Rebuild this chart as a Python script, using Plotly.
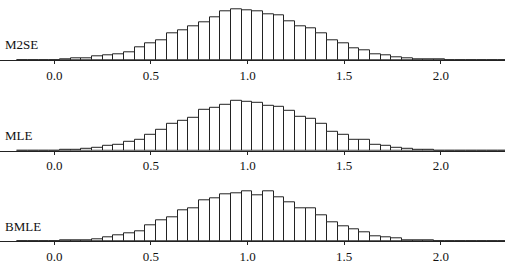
import plotly.graph_objects as go

# Histogram bins (left edge of first full bin and common bin width)
BIN_START = 0.0293
BIN_WIDTH = 0.0553
N_LEFT_TAIL = 4

panel_names = ["M2SE", "MLE", "BMLE"]
tick_vals = [0.0, 0.5, 1.0, 1.5, 2.0]
tick_text = ["0.0", "0.5", "1.0", "1.5", "2.0"]

# heights (relative frequency, arbitrary units)
m2se = [0.2, 0.2, 0.3, 0.4,
        1, 1.7, 2.3, 3.7, 5, 6, 8, 12.7, 16.7, 20.3,
        26.7, 29.7, 34.3, 37.7, 42.7, 49.3, 50.7, 50, 49.3,
        46, 44.7, 39, 33.7, 31.7, 27, 20.3, 16.7, 12, 10.3,
        5.7, 4.7, 3, 2, 1.3, 1, 0.7,
        0.4, 0.3, 0.2, 0.2, 0.1, 0.1]
mle = [0.2, 0.2, 0.3, 0.5,
       0.7, 1.3, 1.7, 3.3, 5.3, 5.7, 8.7, 11, 16, 21.3,
       26.7, 30, 33.3, 41.3, 43.3, 46, 50.3, 49.3, 48.3,
       45, 44.3, 39.7, 34.3, 32.3, 27.3, 19, 16.3, 11.3, 11,
       5.7, 4.7, 2.7, 2.3, 1.3, 0.7, 0.5,
       0.4, 0.3, 0.2, 0.2, 0.1, 0.1]
bmle = [0.2, 0.2, 0.3, 0.4,
        0.7, 1, 1.3, 2.3, 3.7, 6, 7.7, 10, 16, 20.7,
        24.3, 31, 32.7, 40.7, 42.7, 46.7, 48.3, 50, 46.3,
        49.7, 43.7, 39, 32.7, 32.7, 26.3, 18.7, 14.7, 12.3, 9.3,
        5, 3.7, 2.7, 1.3, 0.7, 0.7, 0.5,
        0.4, 0.3, 0.2, 0.2, 0.1, 0.1]

series = [m2se, mle, bmle]

W, H = 505, 270
baselines_px = [60.3, 150.8, 241.3]   # pixel row of each panel's baseline
panel_h_px = 55
YMAX = 55
label_px = [45, 135.7, 226.7]

FONT = "Liberation Serif, Times New Roman, serif"

fig = go.Figure()
layout = dict(
    width=W, height=H,
    margin=dict(l=0, r=0, t=0, b=0),
    paper_bgcolor="white", plot_bgcolor="white",
    showlegend=False,
    bargap=0,
    annotations=[],
)

for i, (name, vals) in enumerate(zip(panel_names, series)):
    n = len(vals)
    centers = [BIN_START + (k - N_LEFT_TAIL + 0.5) * BIN_WIDTH for k in range(n)]
    xa = "x" if i == 0 else f"x{i+1}"
    ya = "y" if i == 0 else f"y{i+1}"
    fig.add_trace(go.Bar(
        x=centers, y=vals, width=[BIN_WIDTH] * n,
        marker=dict(color="white", line=dict(color="#222222", width=1)),
        xaxis=xa, yaxis=ya, hoverinfo="skip",
    ))
    b = baselines_px[i]
    d0 = (H - b) / H
    d1 = (H - b + panel_h_px) / H
    xkey = "xaxis" if i == 0 else f"xaxis{i+1}"
    ykey = "yaxis" if i == 0 else f"yaxis{i+1}"
    layout[xkey] = dict(
        domain=[0, 1], anchor=ya,
        range=[-0.281, 2.332],
        tickvals=tick_vals, ticktext=tick_text,
        ticks="outside", ticklen=3, tickwidth=1, tickcolor="#222222",
        showline=True, linecolor="#222222", linewidth=1,
        showgrid=False, zeroline=False,
        tickfont=dict(family=FONT, size=13, color="#111111"),
        fixedrange=True,
    )
    layout[ykey] = dict(
        domain=[d0, d1], anchor=xa,
        range=[0, YMAX],
        visible=False, showgrid=False, zeroline=False,
        fixedrange=True,
    )
    layout["annotations"].append(dict(
        text=name, xref="paper", yref="paper",
        x=3 / W, y=(H - label_px[i]) / H,
        xanchor="left", yanchor="middle", showarrow=False,
        font=dict(family=FONT, size=13, color="#111111"),
    ))

fig.update_layout(**layout)
fig.write_html("out.html")
